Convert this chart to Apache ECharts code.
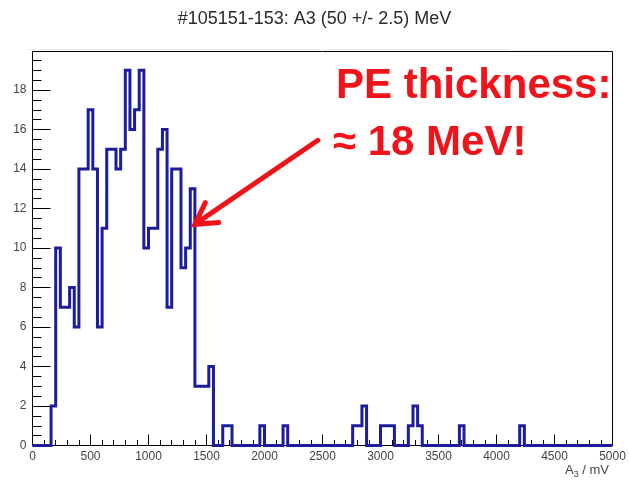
<!DOCTYPE html>
<html>
<head>
<meta charset="utf-8">
<script src="https://cdn.jsdelivr.net/npm/echarts@6/dist/echarts.min.js"></script>
<style>
  html, body { margin: 0; padding: 0; background: #fff; }
  #chart { width: 629px; height: 480px; }
</style>
</head>
<body>
<div id="chart"></div>
<script>
// Histogram of A3 amplitudes, 40 mV bins from 0 to 5000 mV
const titleText = '#105151-153: A3 (50 +/- 2.5) MeV';
const binWidth = 40;
const xMin = 0;
const xMax = 5000;
const counts = [
  0, 0, 0, 0, 2, 10, 7, 7, 8, 6,          // 0 - 400
  14, 14, 17, 14, 6, 11, 15, 15, 14, 15,  // 400 - 800
  19, 16, 17, 19, 10, 11, 11, 15, 16, 7,  // 800 - 1200
  14, 14, 9, 10, 13, 3, 3, 3, 4, 0,       // 1200 - 1600
  0, 1, 1, 0, 0, 0, 0, 0, 0, 1,           // 1600 - 2000
  0, 0, 0, 0, 1, 0, 0, 0, 0, 0,           // 2000 - 2400
  0, 0, 0, 0, 0, 0, 0, 0, 0, 1,           // 2400 - 2800
  1, 2, 0, 0, 0, 1, 1, 1, 0, 0,           // 2800 - 3200
  0, 1, 2, 1, 0, 0, 0, 0, 0, 0,           // 3200 - 3600
  0, 0, 1, 0, 0, 0, 0, 0, 0, 0,           // 3600 - 4000
  0, 0, 0, 0, 0, 1, 0, 0, 0, 0,           // 4000 - 4400
  0, 0, 0, 0, 0, 0, 0, 0, 0, 0,           // 4400 - 4800
  0, 0, 0, 0, 0                           // 4800 - 5000
];
const yMax = 19.95;
const annotationLines = ['PE thickness:', '\u2248 18 MeV!'];
const arrowTarget = [1400, 11.2];   // points at the right edge of the 1360-1400 mV bin

const FONT = '"Liberation Sans", Arial, Helvetica, sans-serif';

// step outline of the histogram
const outline = [[xMin, 0]];
counts.forEach((c, k) => {
  const lo = xMin + k * binWidth;
  outline.push([lo, c], [lo + binWidth, c]);
});
outline.push([xMax, 0]);

const chart = echarts.init(document.getElementById('chart'), null, { renderer: 'canvas' });

const axisCommon = {
  type: 'value',
  axisLine: { show: true, onZero: false, lineStyle: { color: '#000', width: 1 } },
  splitLine: { show: false },
  minorSplitLine: { show: false },
  axisLabel: { fontFamily: FONT, fontSize: 12, color: '#444', formatter: v => String(v) }
};

chart.setOption({
  animation: false,
  backgroundColor: '#fff',
  title: {
    text: titleText,
    left: 'center',
    top: 5,
    textStyle: { fontFamily: FONT, fontSize: 18, fontWeight: 'normal', color: '#2a2a2a' }
  },
  grid: {
    left: 32.5, right: 16.5, top: 51.5, bottom: 34.5,
    show: true, borderColor: '#000', borderWidth: 1, backgroundColor: '#fff'
  },
  xAxis: Object.assign({}, axisCommon, {
    min: xMin, max: xMax, interval: 500,
    axisTick: { show: true, inside: true, length: 11, lineStyle: { color: '#000' } },
    minorTick: { show: true, splitNumber: 5, length: 5.5, lineStyle: { color: '#000' } },
    axisLabel: Object.assign({}, axisCommon.axisLabel, { margin: 5 })
  }),
  yAxis: Object.assign({}, axisCommon, {
    min: 0, max: yMax, interval: 2,
    axisTick: { show: true, inside: true, length: 18, lineStyle: { color: '#000' } },
    minorTick: { show: true, splitNumber: 4, length: 9, lineStyle: { color: '#000' } },
    axisLabel: Object.assign({}, axisCommon.axisLabel, { margin: 6, showMaxLabel: false })
  }),
  series: [{
    type: 'line',
    data: outline,
    showSymbol: false,
    symbol: 'none',
    clip: true,
    lineStyle: { color: '#1c1c9c', width: 3, join: 'miter' },
    z: 3
  }]
});

// annotation: red text and arrow pointing into the histogram
const tip = chart.convertToPixel({ gridIndex: 0 }, arrowTarget);
const tail = [tip[0] + 123, tip[1] - 84];
const ang = Math.atan2(tail[1] - tip[1], tail[0] - tip[0]);
const wingLen = 24, spread = Math.PI / 6;
const w1 = [tip[0] + wingLen * Math.cos(ang + spread), tip[1] + wingLen * Math.sin(ang + spread)];
const w2 = [tip[0] + wingLen * Math.cos(ang - spread), tip[1] + wingLen * Math.sin(ang - spread)];
const red = '#f0141a';

chart.setOption({
  graphic: [
    {
      type: 'line', silent: true, z: 1,
      shape: { x1: 27, y1: 49.5, x2: 510, y2: 49.5 },
      style: { stroke: '#ececec', lineWidth: 1 }
    },
    {
      type: 'text', silent: true, z: 10,
      x: 336, y: 86,
      style: { text: annotationLines[0], fill: red, font: 'bold 42px ' + FONT, textVerticalAlign: 'middle' }
    },
    {
      type: 'text', silent: true, z: 10,
      x: 333, y: 143,
      style: { text: annotationLines[1], fill: red, font: 'bold 42px ' + FONT, textVerticalAlign: 'middle' }
    },
    {
      type: 'line', silent: true, z: 10,
      shape: { x1: tail[0], y1: tail[1], x2: tip[0] + 2, y2: tip[1] - 1.4 },
      style: { stroke: red, lineWidth: 5, lineCap: 'round' }
    },
    {
      type: 'polyline', silent: true, z: 10,
      shape: { points: [w1, tip, w2] },
      style: { stroke: red, lineWidth: 5, lineCap: 'round', lineJoin: 'miter', fill: null }
    },
    {
      type: 'text', silent: true, z: 10,
      x: 609, y: 470,
      style: {
        text: 'A{sub|3} / mV',
        font: '13px ' + FONT,
        fill: '#444',
        align: 'right',
        verticalAlign: 'middle',
        rich: { sub: { fontSize: 9, fontFamily: FONT, fill: '#444', padding: [9, 0, 0, 0] } }
      }
    }
  ]
});
</script>
</body>
</html>
